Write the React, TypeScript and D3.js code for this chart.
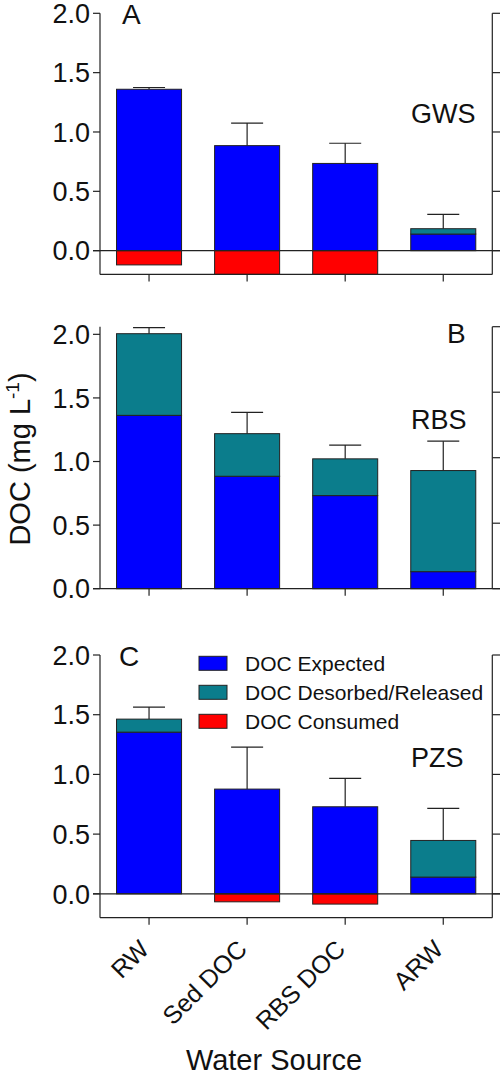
import React from "react";
import * as d3 from "d3";

// ---------- data ----------
const categories = ["RW", "Sed DOC", "RBS DOC", "ARW"];
const yTicks = [0, 0.5, 1.0, 1.5, 2.0];
const legendLabels = ["DOC Expected", "DOC Desorbed/Released", "DOC Consumed"];
const seriesColors = ["#0000FF", "#0B7D8C", "#FF0000"];

// Panel A — GWS
const gwsExpected = [1.36, 0.885, 0.735, 0.14];
const gwsDesorbed = [0, 0, 0, 0.045];
const gwsConsumed = [-0.12, -0.2, -0.2, 0];
const gwsError = [0.015, 0.19, 0.17, 0.12];

// Panel B — RBS
const rbsExpected = [1.363, 0.884, 0.732, 0.134];
const rbsDesorbed = [0.642, 0.335, 0.289, 0.795];
const rbsConsumed = [0, 0, 0, 0];
const rbsError = [0.047, 0.168, 0.108, 0.231];

// Panel C — PZS
const pzsExpected = [1.354, 0.877, 0.729, 0.14];
const pzsDesorbed = [0.109, 0, 0, 0.307];
const pzsConsumed = [0, -0.067, -0.086, 0];
const pzsError = [0.101, 0.352, 0.237, 0.268];

// ---------- layout ----------
const W = 500;
const H = 1074;
const LEFT = 100;
const RIGHT = 492.3;
const FONT = "'Liberation Sans', Arial, Helvetica, sans-serif";
const INK = "#222";

const panels = [
  {
    letter: "A", name: "GWS",
    expected: gwsExpected, desorbed: gwsDesorbed, consumed: gwsConsumed, error: gwsError,
    domain: [-0.2, 2.0], top: 13.3, bottom: 274.4, frame: true,
    letterPos: [122, 23.8], namePos: [411, 123],
  },
  {
    letter: "B", name: "RBS",
    expected: rbsExpected, desorbed: rbsDesorbed, consumed: rbsConsumed, error: rbsError,
    domain: [0, 2.06], top: 326.7, bottom: 588.7, frame: false,
    letterPos: [447, 342.7], namePos: [411, 429.3],
  },
  {
    letter: "C", name: "PZS",
    expected: pzsExpected, desorbed: pzsDesorbed, consumed: pzsConsumed, error: pzsError,
    domain: [-0.2, 2.0], top: 655, bottom: 917.7, frame: true,
    letterPos: [119, 665.7], namePos: [411, 766.7],
  },
];

const x = d3.scaleBand<string>().domain(categories).range([LEFT, RIGHT]).paddingInner(0.337).paddingOuter(0.1685);

function Panel({ p, showLabels }: { p: any; showLabels: boolean }) {
  const y = d3.scaleLinear().domain(p.domain).range([p.bottom, p.top]);
  const y0 = y(0);
  const topVal = p.domain[1];
  const yRight = d3.scaleLinear().domain([0, topVal]).range([y0, p.top]);
  const rightTicks = d3.range(5).map((i) => (i * topVal) / 4);
  const bw = x.bandwidth();
  return (
    <g>
      {categories.map((c, i) => {
        const x0 = x(c)!;
        const e = p.expected[i];
        const dsb = p.desorbed[i];
        const con = p.consumed[i];
        const total = e + dsb;
        const cx = x0 + bw / 2;
        const et = y(total + p.error[i]);
        return (
          <g key={c}>
            <line x1={cx} x2={cx} y1={y(total)} y2={et} stroke={INK} strokeWidth={1.2} />
            <line x1={cx - 16} x2={cx + 16} y1={et} y2={et} stroke={INK} strokeWidth={1.2} />
            <rect x={x0} width={bw} y={y(e)} height={y0 - y(e)} fill={seriesColors[0]} stroke={INK} strokeWidth={1} />
            {dsb > 0 && (
              <rect x={x0} width={bw} y={y(total)} height={y(e) - y(total)} fill={seriesColors[1]} stroke={INK} strokeWidth={1} />
            )}
            {con < 0 && (
              <rect x={x0} width={bw} y={y0} height={y(con) - y0} fill={seriesColors[2]} stroke={INK} strokeWidth={1} />
            )}
          </g>
        );
      })}
      <line x1={LEFT} x2={LEFT} y1={p.top} y2={p.bottom} stroke={INK} strokeWidth={1.2} />
      {yTicks.map((t) => (
        <g key={t}>
          <line x1={LEFT - 7} x2={LEFT} y1={y(t)} y2={y(t)} stroke={INK} strokeWidth={1.2} />
          <text x={90} y={y(t)} dy="0.36em" textAnchor="end" fontSize={27} fontFamily={FONT} fill="#111">
            {d3.format(".1f")(t)}
          </text>
        </g>
      ))}
      <line x1={RIGHT} x2={RIGHT} y1={yRight(topVal)} y2={p.bottom} stroke={INK} strokeWidth={1.2} />
      {rightTicks.map((t) => (
        <line key={t} x1={RIGHT} x2={RIGHT + 8} y1={yRight(t)} y2={yRight(t)} stroke={INK} strokeWidth={1.2} />
      ))}
      {p.frame && <line x1={LEFT} x2={RIGHT} y1={p.bottom} y2={p.bottom} stroke={INK} strokeWidth={1.2} />}
      <line x1={LEFT - 7} x2={W} y1={y0} y2={y0} stroke={INK} strokeWidth={1.2} />
      {categories.map((c) => {
        const cx = x(c)! + bw / 2;
        return <line key={c} x1={cx} x2={cx} y1={p.bottom} y2={p.bottom + 7} stroke={INK} strokeWidth={1.2} />;
      })}
      {showLabels &&
        categories.map((c) => {
          const cx = x(c)! + bw / 2;
          return (
            <text key={c} transform={`translate(${cx + 1.5},${p.bottom + 33}) rotate(-45)`} textAnchor="end" fontSize={25} fontFamily={FONT} fill="#111">
              {c}
            </text>
          );
        })}
      <text x={p.letterPos[0]} y={p.letterPos[1]} fontSize={28} fontFamily={FONT} fill="#111">{p.letter}</text>
      <text x={p.namePos[0]} y={p.namePos[1]} fontSize={27} fontFamily={FONT} fill="#111">{p.name}</text>
    </g>
  );
}

export default function App() {
  return (
    <svg width={W} height={H} style={{ position: "absolute", left: 0, top: 0, background: "#fff" }}>
      <rect width={W} height={H} fill="#fff" />
      {panels.map((p, i) => (
        <Panel key={p.letter} p={p} showLabels={i === panels.length - 1} />
      ))}
      {legendLabels.map((l, i) => (
        <g key={l} transform={`translate(199,${663.3 + i * 29})`}>
          <rect x={0} y={-7} width={28} height={14} fill={seriesColors[i]} stroke={INK} strokeWidth={1} />
          <text x={46} y={0} dy="0.36em" fontSize={21} fontFamily={FONT} fill="#111">{l}</text>
        </g>
      ))}
      <text transform="translate(30,459) rotate(-90)" textAnchor="middle" fontSize={29} fontFamily={FONT} fill="#111">
        DOC (mg L<tspan fontSize={19} dy={-11}>-1</tspan><tspan dy={11}>)</tspan>
      </text>
      <text x={274} y={1069.5} textAnchor="middle" fontSize={29} fontFamily={FONT} fill="#111">Water Source</text>
    </svg>
  );
}
